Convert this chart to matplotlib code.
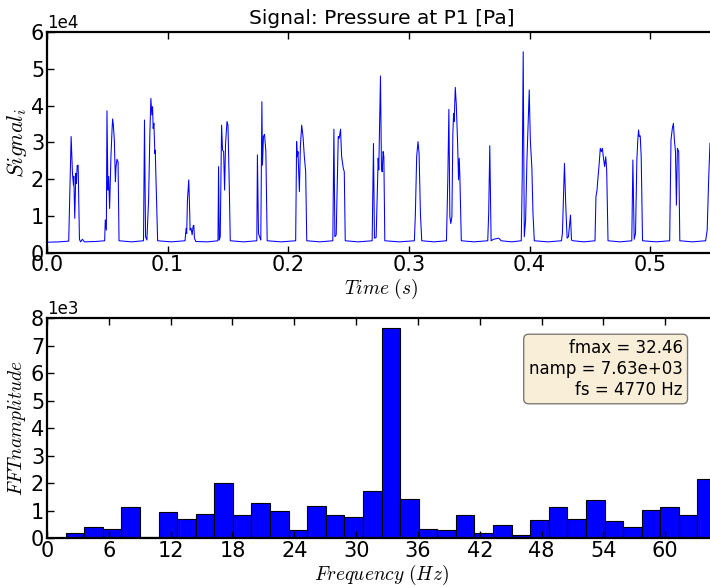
import matplotlib
matplotlib.use("Agg")
import matplotlib.pyplot as plt
import numpy as np

plt.rcParams['font.family'] = ['DejaVu Sans']
plt.rcParams['mathtext.fontset'] = 'cm'
plt.rcParams['xtick.direction'] = 'in'
plt.rcParams['ytick.direction'] = 'in'
plt.rcParams['xtick.top'] = True
plt.rcParams['ytick.right'] = False

# ---- data ----
title = "Signal: Pressure at P1 [Pa]"
time_s = [0.0000, 0.0100, 0.0180, 0.0200, 0.0211, 0.0219, 0.0222, 0.0230, 0.0239, 0.0244, 0.0250, 0.0258, 0.0269, 0.0278, 0.0294, 0.0310,
          0.0400, 0.0478, 0.0483, 0.0492, 0.0497, 0.0505, 0.0511, 0.0519, 0.0530, 0.0539, 0.0544, 0.0550, 0.0558, 0.0567, 0.0572, 0.0580, 0.0589, 0.0597,
          0.0700, 0.0800, 0.0808, 0.0817, 0.0828, 0.0842, 0.0853, 0.0861, 0.0869, 0.0875, 0.0880, 0.0886, 0.0894, 0.0897, 0.0905, 0.0917,
          0.1030, 0.1144, 0.1153, 0.1158, 0.1164, 0.1175, 0.1183, 0.1186, 0.1194, 0.1203, 0.1211, 0.1217, 0.1222, 0.1233,
          0.1330, 0.1417, 0.1422, 0.1428, 0.1436, 0.1447, 0.1455, 0.1464, 0.1472, 0.1480, 0.1492, 0.1500, 0.1511, 0.1519,
          0.1630, 0.1739, 0.1744, 0.1753, 0.1764, 0.1772, 0.1781, 0.1786, 0.1794, 0.1803, 0.1814, 0.1825,
          0.1940, 0.2061, 0.2069, 0.2075, 0.2080, 0.2092, 0.2100, 0.2111, 0.2122, 0.2133, 0.2144, 0.2153,
          0.2260, 0.2369, 0.2378, 0.2386, 0.2397, 0.2414, 0.2422, 0.2433, 0.2442, 0.2456, 0.2464, 0.2472,
          0.2580, 0.2695, 0.2706, 0.2714, 0.2728, 0.2745, 0.2750, 0.2764, 0.2772, 0.2778, 0.2786, 0.2792, 0.2800,
          0.2920, 0.3045, 0.3053, 0.3064, 0.3075, 0.3084, 0.3095, 0.3106,
          0.3210, 0.3311, 0.3322, 0.3331, 0.3339, 0.3347, 0.3356, 0.3364, 0.3370, 0.3375, 0.3384, 0.3392, 0.3403, 0.3411, 0.3417, 0.3422, 0.3434,
          0.3540, 0.3653, 0.3661, 0.3670, 0.3681, 0.3700, 0.3745, 0.3764,
          0.3850, 0.3931, 0.3939, 0.3947, 0.3956, 0.3967, 0.3978, 0.3997, 0.4006, 0.4014, 0.4019, 0.4028, 0.4039,
          0.4150, 0.4264, 0.4272, 0.4289, 0.4300, 0.4311, 0.4322, 0.4339, 0.4347, 0.4361,
          0.4450, 0.4542, 0.4550, 0.4559, 0.4564, 0.4575, 0.4586, 0.4595, 0.4603, 0.4611, 0.4622, 0.4631, 0.4639, 0.4650,
          0.4750, 0.4847, 0.4856, 0.4867, 0.4878, 0.4889, 0.4897, 0.4903, 0.4909, 0.4917, 0.4925, 0.4936,
          0.5050, 0.5161, 0.5172, 0.5183, 0.5192, 0.5200, 0.5209, 0.5217, 0.5225, 0.5236, 0.5245,
          0.5350, 0.5459, 0.5472, 0.5484, 0.5495, 0.5503, 0.5511, 0.5520, 0.5528, 0.5545]
pressure_pa = [2800, 2900, 3100, 31600, 21600, 18400, 20800, 9300, 21600, 18800, 23700, 23800, 3600, 2900, 3600, 2900,
               3000, 3200, 8900, 6100, 38600, 17000, 20700, 12000, 26100, 33400, 36400, 34700, 30700, 19300, 23400, 25400, 24700, 3200,
               2900, 3200, 36100, 4300, 3400, 14300, 32900, 42000, 37500, 39700, 33800, 35200, 27000, 27900, 17900, 3200,
               2900, 3200, 6600, 5200, 14300, 19800, 10700, 6100, 6600, 4800, 7200, 7400, 3900, 3000,
               2900, 3200, 23400, 3400, 4300, 34700, 27900, 27500, 17000, 29700, 35700, 34700, 17900, 3200,
               2900, 3200, 26600, 5200, 4100, 3400, 41100, 23800, 31600, 32200, 27500, 3200,
               2900, 3200, 30200, 26100, 27500, 16600, 28800, 34700, 31600, 26100, 22000, 3200,
               2900, 3200, 33600, 4300, 4800, 31600, 31100, 33600, 26100, 22900, 22000, 3200,
               2900, 3200, 29700, 3900, 4100, 25700, 22500, 48100, 23400, 22000, 27500, 26100, 3200,
               2900, 3200, 10200, 26100, 30200, 27000, 10700, 3200,
               2900, 3200, 19800, 39000, 9800, 7900, 9800, 32500, 37900, 35700, 45000, 40600, 30200, 19800, 25700, 20700, 3200,
               2900, 3200, 10700, 29100, 3200, 3600, 3900, 3200,
               2900, 3200, 20700, 54700, 4300, 8900, 25200, 44300, 30700, 25700, 22900, 10700, 3200,
               2900, 3200, 5200, 24300, 12500, 3900, 4300, 10200, 3400, 3200,
               2900, 3200, 15200, 17000, 19300, 23400, 28400, 27500, 28400, 26100, 23400, 26100, 22500, 3200,
               2900, 3200, 25200, 3600, 5200, 25200, 30700, 33400, 31600, 31800, 26100, 3200,
               2900, 3200, 30700, 33800, 35200, 30700, 27500, 12900, 28400, 27500, 3200,
               2900, 3200, 6100, 19800, 29700, 30200, 27500, 28400, 27900, 26000]

freq_hz = [0.00, 1.80, 3.61, 5.41, 7.21, 9.02, 10.82, 12.62, 14.43, 16.23, 18.03, 19.84,
           21.64, 23.44, 25.25, 27.05, 28.85, 30.66, 32.46, 34.26, 36.07, 37.87, 39.67, 41.48,
           43.28, 45.08, 46.89, 48.69, 50.49, 52.30, 54.10, 55.90, 57.71, 59.51, 61.31, 63.12]
fft_amp = [0, 200, 410, 340, 1150, 60, 960, 700, 870, 2010, 860, 1280,
           990, 310, 1160, 850, 790, 1730, 7630, 1440, 350, 290, 840, 190,
           470, 130, 665, 1150, 715, 1380, 630, 420, 1020, 1150, 860, 2160]
bin_width_hz = 1.8033
freq_ticks = [0, 6, 12, 18, 24, 30, 36, 42, 48, 54, 60]
info_text = "fmax = 32.46\nnamp = 7.63e+03\nfs = 4770 Hz"

W, H = 710, 587
fig = plt.figure(figsize=(W / 100, H / 100), dpi=100)
left = 47 / W
width = (716 - 47) / W
ax1 = fig.add_axes([left, 1 - 252.5 / H, width, 220.2 / H])
ax2 = fig.add_axes([left, 1 - 538.3 / H, width, 220.0 / H])

tick_fs = 15
ax1.plot(time_s, pressure_pa, color='#0000ff', lw=0.75)
ax1.set_xlim(0, 0.5545)
ax1.set_ylim(0, 60000)
ax1.set_yticks([0, 10000, 20000, 30000, 40000, 50000, 60000])
ax1.set_xticks([0.0, 0.1, 0.2, 0.3, 0.4, 0.5])
ax1.ticklabel_format(axis='y', style='sci', scilimits=(0, 0))
ax1.set_title(title, fontsize=14.5, pad=6)
ax1.set_xlabel(r'$Time\ (s)$', fontsize=14, labelpad=1)
ax1.set_ylabel(r'$Signal_i$', fontsize=16, labelpad=1)

ax2.bar(freq_hz, fft_amp, width=bin_width_hz, align='edge', color='#0000ff', edgecolor='black', lw=0.8)
ax2.set_xlim(0, 64.92)
ax2.set_ylim(0, 8000)
ax2.set_xticks(freq_ticks)
ax2.set_yticks([0, 1000, 2000, 3000, 4000, 5000, 6000, 7000, 8000])
ax2.ticklabel_format(axis='y', style='sci', scilimits=(0, 0))
ax2.set_xlabel(r'$Frequency\ (Hz)$', fontsize=14, labelpad=1)
ax2.set_ylabel(r'$FFTnamplitude$', fontsize=14, labelpad=2)
ax2.text(0.95, 0.905, info_text, transform=ax2.transAxes, ha='right', va='top',
         fontsize=12, bbox=dict(boxstyle='round', facecolor='wheat', alpha=0.5))

for ax in (ax1, ax2):
    ax.tick_params(labelsize=tick_fs, length=5, width=1, pad=2)
    for s in ax.spines.values():
        s.set_linewidth(1.6)
    ax.yaxis.get_offset_text().set_fontsize(12)

fig.savefig('out.png', dpi=100)
